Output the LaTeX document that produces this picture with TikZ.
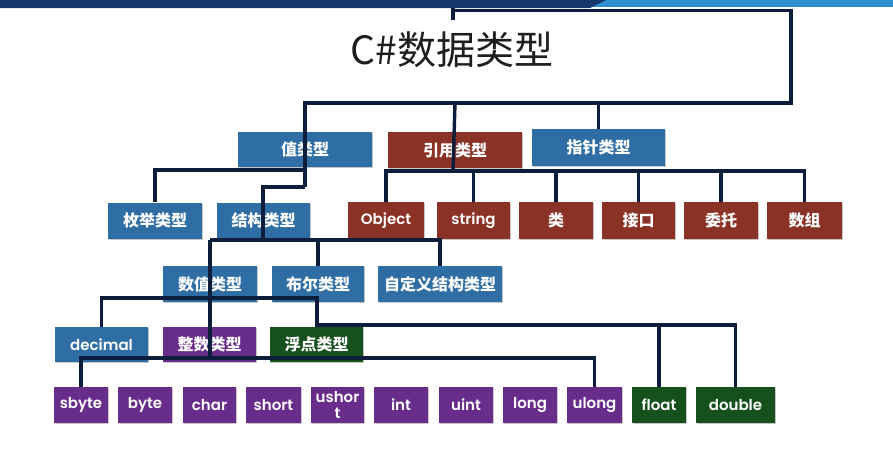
\documentclass[tikz,border=0pt]{standalone}
\usepackage{fontspec}
\setmainfont{Poppins}[BoldFont={* SemiBold}]
\newfontfamily\cjk{Noto Sans CJK SC}
\usetikzlibrary{shadows}
\definecolor{bluebox}{RGB}{46,110,164}
\definecolor{redbox}{RGB}{138,50,38}
\definecolor{purplebox}{RGB}{104,44,138}
\definecolor{greenbox}{RGB}{22,80,28}
\definecolor{linec}{RGB}{12,30,60}
\definecolor{banddark}{RGB}{21,54,104}
\definecolor{bandlight}{RGB}{46,143,208}
\definecolor{titlec}{RGB}{30,30,30}
\begin{document}
\begin{tikzpicture}[x=1pt,y=-1pt,
  box/.style={rectangle, inner sep=0pt, minimum height=36pt, text=white,
    font=\bfseries\fontsize{15}{15}\selectfont, align=center,
    drop shadow={shadow xshift=1pt, shadow yshift=-1.2pt, fill=black, opacity=0.22}},
  cbox/.style={box, font=\cjk\bfseries\fontsize{16}{18}\selectfont},
  conn/.style={draw=linec, line width=3.4pt, line join=miter}]
\useasboundingbox (0,0) rectangle (893,472);
\fill[white] (0,0) rectangle (893,472);
% banner
\fill[bandlight] (580,0) rectangle (893,7);
\fill[banddark] (0,0) -- (606,0) -- (590,8) -- (0,8) -- cycle;
% title
\node[text=titlec, font=\cjk\fontsize{39}{42}\selectfont, inner sep=0pt] (title) at (452,50) {C\#数据类型};
% level 1
\node[cbox, fill=bluebox, minimum width=134pt, minimum height=35pt] (val) at (305,149.5) {值类型};
\node[cbox, fill=redbox, minimum width=134pt] (ref) at (455,150) {引用类型};
\node[cbox, fill=bluebox, minimum width=133pt, minimum height=37pt] (ptr) at (598.5,147.5) {指针类型};
% level 2
\node[cbox, fill=bluebox, minimum width=94pt] (enum) at (155,220.5) {枚举类型};
\node[cbox, fill=bluebox, minimum width=93pt] (struct) at (263.5,220.5) {结构类型};
\node[box, fill=redbox, minimum width=76pt, minimum height=37pt] (obj) at (386,220.5) {Object};
\node[box, fill=redbox, minimum width=73pt, minimum height=37pt] (str) at (473.5,220.5) {string};
\node[cbox, fill=redbox, minimum width=74pt, minimum height=37pt] (cls) at (556,220.5) {类};
\node[cbox, fill=redbox, minimum width=73pt, minimum height=37pt] (iface) at (638.5,220.5) {接口};
\node[cbox, fill=redbox, minimum width=74pt, minimum height=37pt] (dlg) at (721,220.5) {委托};
\node[cbox, fill=redbox, minimum width=75pt, minimum height=37pt] (arr) at (804.5,220.5) {数组};
% level 3
\node[cbox, fill=bluebox, minimum width=94pt] (num) at (210,284) {数值类型};
\node[cbox, fill=bluebox, minimum width=92pt] (bool) at (318,284) {布尔类型};
\node[cbox, fill=bluebox, minimum width=124pt] (custom) at (440,284) {自定义结构类型};
% level 4
\node[box, fill=bluebox, minimum width=93pt, minimum height=35pt] (dec) at (101.5,344.5) {decimal};
\node[cbox, fill=purplebox, minimum width=93pt, minimum height=35pt] (integ) at (209.5,344.5) {整数类型};
\node[cbox, fill=greenbox, minimum width=93pt, minimum height=35pt] (flt) at (316.5,344.5) {浮点类型};
% level 5
\node[box, fill=purplebox, minimum width=54pt] (sbyte) at (81,405) {sbyte};
\node[box, fill=purplebox, minimum width=54pt] (byte) at (145,405) {byte};
\node[box, fill=purplebox, minimum width=53pt] (char) at (209.5,405) {char};
\node[box, fill=purplebox, minimum width=55pt] (short) at (273.5,405) {short};
\node[box, fill=purplebox, minimum width=53pt, font=\bfseries\fontsize{15}{16}\selectfont] (ushort) at (337.5,405) {ushor\\t};
\node[box, fill=purplebox, minimum width=54pt] (int) at (401,405) {int};
\node[box, fill=purplebox, minimum width=54pt] (uint) at (466,405) {uint};
\node[box, fill=purplebox, minimum width=54pt] (long) at (530,405) {long};
\node[box, fill=purplebox, minimum width=55pt] (ulong) at (594.5,405) {ulong};
\node[box, fill=greenbox, minimum width=54pt] (float) at (659,405) {float};
\node[box, fill=greenbox, minimum width=79pt] (double) at (735.5,405) {double};
% junction coordinates
\coordinate (stubtop) at (453,8);
\coordinate (stubbot) at (453,20);
\coordinate (topbar) at (453,10.5);
\coordinate (topR) at (791,10.5);
\coordinate (rootbar) at (791,103);
\coordinate (valA) at (305,170);
\coordinate (valB) at (305,187);
\coordinate (structA) at (263,187);
\coordinate (structB) at (263,240);
\coordinate (vsub) at (210,240);
\coordinate (refbar) at (453,171);
\coordinate (numbar) at (210,298);
\coordinate (fltbar) at (317,325);
\coordinate (intbar) at (210,358);
% connectors
\draw[conn] (stubtop) -- (stubbot);
\draw[conn] (topbar) -- (topR) -- (rootbar) -- (val.center |- rootbar) -- (valB);
\draw[conn] (ref.center |- rootbar) -- (refbar);
\draw[conn] (ptr.north |- rootbar) -- (ptr.north);
\draw[conn] (enum.north) -- (enum.north |- valA) -- (valA);
\draw[conn] (valB) -- (structA) -- (structB);
\draw[conn] (vsub) -- (custom.north |- vsub) -- (custom.north);
\draw[conn] (bool.north |- vsub) -- (bool.north);
\draw[conn] (vsub) -- (intbar);
\draw[conn] (obj.north) -- (obj.north |- refbar) -- (arr.north |- refbar) -- (arr.north);
\foreach \n in {str,cls,iface,dlg} \draw[conn] (\n.north |- refbar) -- (\n.north);
\draw[conn] (dec.north) -- (dec.north |- numbar) -- (fltbar |- numbar) -- (fltbar) -- (double.north |- fltbar) -- (double.north);
\draw[conn] (float.north |- fltbar) -- (float.north);
\draw[conn] (sbyte.north) -- (sbyte.north |- intbar) -- (ulong.north |- intbar) -- (ulong.north);
\end{tikzpicture}
\end{document}
